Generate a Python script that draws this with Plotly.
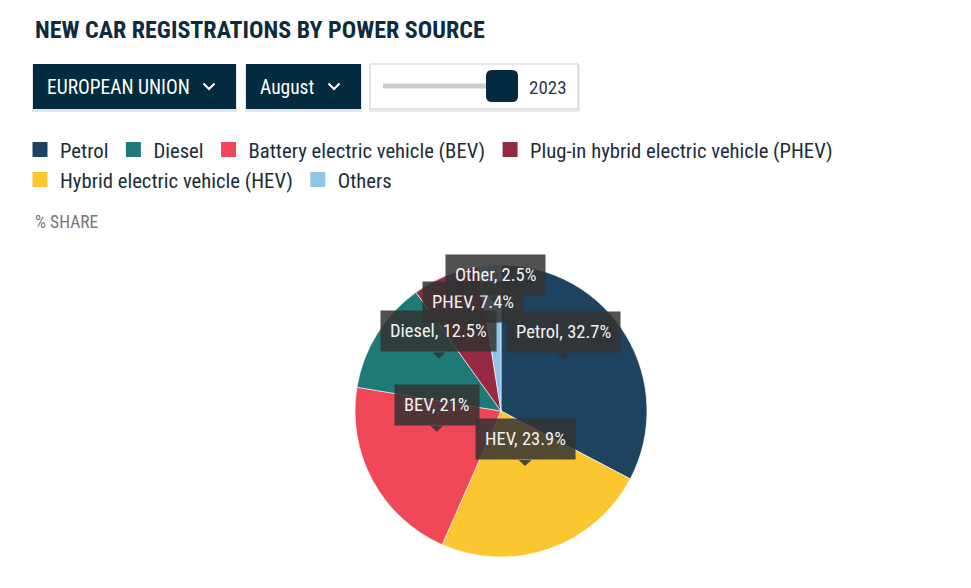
import math
import plotly.graph_objects as go

W, H = 971, 588
FONT = "Roboto Condensed, Roboto, sans-serif"

# ---------------- data ----------------
# slice order, clockwise from 12 o'clock
categories = ["Petrol", "Hybrid electric vehicle (HEV)", "Battery electric vehicle (BEV)",
              "Diesel", "Plug-in hybrid electric vehicle (PHEV)", "Others"]
short_labels = ["Petrol", "HEV", "BEV", "Diesel", "PHEV", "Other"]
shares = [32.7, 23.9, 21, 12.5, 7.4, 2.5]
legend_order = ["Petrol", "Diesel", "Battery electric vehicle (BEV)",
                "Plug-in hybrid electric vehicle (PHEV)", "Hybrid electric vehicle (HEV)", "Others"]
legend_row1_count = 4
title_text = "NEW CAR REGISTRATIONS BY POWER SOURCE"
region_text = "EUROPEAN UNION"
month_text = "August"
year_text = "2023"
unit_text = "% SHARE"

# ---------------- style ----------------
color_map = {
    "Petrol": "#1d4361",
    "Diesel": "#1d7a77",
    "Battery electric vehicle (BEV)": "#ef4755",
    "Plug-in hybrid electric vehicle (PHEV)": "#962a43",
    "Hybrid electric vehicle (HEV)": "#fbc630",
    "Others": "#8fc5e9",
}
NAVY = "#022b40"
CX, CY, R = 501, 411, 146


def X(px):
    return px / W


def Y(py):
    return 1 - py / H


def rrect(x0, y0, x1, y1, r):
    pts = [
        f"M{X(x0 + r)},{Y(y0)}", f"L{X(x1 - r)},{Y(y0)}", f"Q{X(x1)},{Y(y0)} {X(x1)},{Y(y0 + r)}",
        f"L{X(x1)},{Y(y1 - r)}", f"Q{X(x1)},{Y(y1)} {X(x1 - r)},{Y(y1)}",
        f"L{X(x0 + r)},{Y(y1)}", f"Q{X(x0)},{Y(y1)} {X(x0)},{Y(y1 - r)}",
        f"L{X(x0)},{Y(y0 + r)}", f"Q{X(x0)},{Y(y0)} {X(x0 + r)},{Y(y0)}", "Z",
    ]
    return " ".join(pts)


fig = go.Figure()

fig.add_trace(go.Pie(
    labels=categories, values=shares, sort=False, direction="clockwise", rotation=0,
    marker=dict(colors=[color_map[c] for c in categories], line=dict(color="white", width=0.6)),
    textinfo="none", textposition="none", hoverinfo="none", showlegend=False,
    domain=dict(x=[X(CX - R), X(CX + R)], y=[Y(CY + R), Y(CY - R)]),
))

# legend (dummy traces for ordered, two-row legend)
for i, name in enumerate(legend_order):
    fig.add_trace(go.Scatter(
        x=[None], y=[None], mode="markers", name=name,
        marker=dict(symbol="square", size=15, color=color_map[name]),
        legend="legend" if i < legend_row1_count else "legend2", hoverinfo="skip",
    ))

shapes = []
annotations = []

# title and unit label
annotations.append(dict(text=title_text, x=X(33), y=Y(30), xref="paper", yref="paper",
                        xanchor="left", yanchor="middle", showarrow=False,
                        font=dict(family=FONT, size=24, color="#0c2b3d", weight=700)))
annotations.append(dict(text=unit_text, x=X(33), y=Y(222), xref="paper", yref="paper",
                        xanchor="left", yanchor="middle", showarrow=False,
                        font=dict(family=FONT, size=17.5, color="#777777")))

# dropdown controls
for (x0, x1, label, chev) in [(33, 236, region_text, 209), (246, 361, month_text, 334)]:
    shapes.append(dict(type="rect", xref="paper", yref="paper", x0=X(x0 - 1), x1=X(x1 + 1),
                       y0=Y(64 + 1), y1=Y(109 + 3), fillcolor="rgba(0,0,0,0.10)", line=dict(width=0)))
    shapes.append(dict(type="rect", xref="paper", yref="paper", x0=X(x0), x1=X(x1),
                       y0=Y(64), y1=Y(109), fillcolor=NAVY, line=dict(width=0)))
    annotations.append(dict(text=label, x=X(x0 + 12), y=Y(87), xref="paper", yref="paper",
                            xanchor="left", yanchor="middle", showarrow=False,
                            font=dict(family=FONT, size=19.5, color="white")))
    shapes.append(dict(type="path", xref="paper", yref="paper",
                       path=f"M{X(chev - 5.5)},{Y(83.5)} L{X(chev)},{Y(89)} L{X(chev + 5.5)},{Y(83.5)}",
                       line=dict(color="white", width=2)))

# slider box
shapes.append(dict(type="rect", xref="paper", yref="paper", x0=X(369), x1=X(580),
                   y0=Y(65), y1=Y(112), fillcolor="rgba(0,0,0,0.07)", line=dict(width=0)))
shapes.append(dict(type="rect", xref="paper", yref="paper", x0=X(370), x1=X(578),
                   y0=Y(64), y1=Y(109), fillcolor="white", line=dict(color="#cfcfcf", width=1)))
shapes.append(dict(type="line", xref="paper", yref="paper", x0=X(383), x1=X(495),
                   y0=Y(86), y1=Y(86), line=dict(color="#cccccc", width=5)))
shapes.append(dict(type="path", xref="paper", yref="paper", path=rrect(486, 70, 518, 102, 6),
                   fillcolor=NAVY, line=dict(width=0)))
annotations.append(dict(text=year_text, x=X(527), y=Y(87), xref="paper", yref="paper",
                        xanchor="left", yanchor="middle", showarrow=False,
                        font=dict(family=FONT, size=19, color="#2b3a45")))

# tooltip-style labels at slice centroids (half radius), nudged upward on overlap
total = sum(shares)
BOX_H, PTR, LIFT, STEP = 38, 6, 14, 27
placed = []
start = 0.0
for lab, v in zip(short_labels, shares):
    ang = (start + v / 2) / total * 2 * math.pi
    start += v
    lx = CX + 0.5 * R * math.sin(ang)
    tip = CY - 0.5 * R * math.cos(ang) - LIFT
    text = f"{lab}, {v:g}%"
    wbox = 7.2 * len(text) + 16
    bottom = tip - PTR
    changed = True
    while changed:
        changed = False
        for (ox, ob, ow) in placed:
            xo = min(lx + wbox / 2, ox + ow / 2) - max(lx - wbox / 2, ox - ow / 2)
            yo = min(bottom, ob) - max(bottom - BOX_H, ob - BOX_H)
            if xo > 10 and yo > 2 and bottom > ob - STEP:
                bottom = ob - STEP
                changed = True
    placed.append((lx, bottom, wbox))
    tip = bottom + PTR
    shapes.append(dict(type="path", xref="paper", yref="paper",
                       path=f"M{X(lx - 6.5)},{Y(bottom)} L{X(lx + 6.5)},{Y(bottom)} L{X(lx)},{Y(tip)} Z",
                       fillcolor="rgba(50,50,50,0.85)", line=dict(width=0)))
    annotations.append(dict(text=text, x=X(lx), y=Y(bottom), xref="paper", yref="paper",
                            xanchor="center", yanchor="bottom", showarrow=False,
                            bgcolor="rgba(50,50,50,0.85)", borderpad=9,
                            font=dict(family=FONT, size=18.5, color="#f2f2f2")))

legend_common = dict(orientation="h", xanchor="left", yanchor="middle", bgcolor="rgba(0,0,0,0)",
                     font=dict(family=FONT, size=20.7, color="#1c2d3a"), itemclick=False,
                     itemdoubleclick=False, borderwidth=0)

fig.update_layout(
    width=W, height=H, autosize=False,
    margin=dict(l=0, r=0, t=0, b=0),
    paper_bgcolor="white", plot_bgcolor="white",
    xaxis=dict(visible=False), yaxis=dict(visible=False),
    legend=dict(x=X(20), y=Y(149.5), **legend_common),
    legend2=dict(x=X(20), y=Y(179.5), **legend_common),
    shapes=shapes, annotations=annotations,
    hovermode=False,
)

fig.write_html("out.html", config={"displayModeBar": False, "staticPlot": False},
               post_script="document.body.style.margin='0';")
